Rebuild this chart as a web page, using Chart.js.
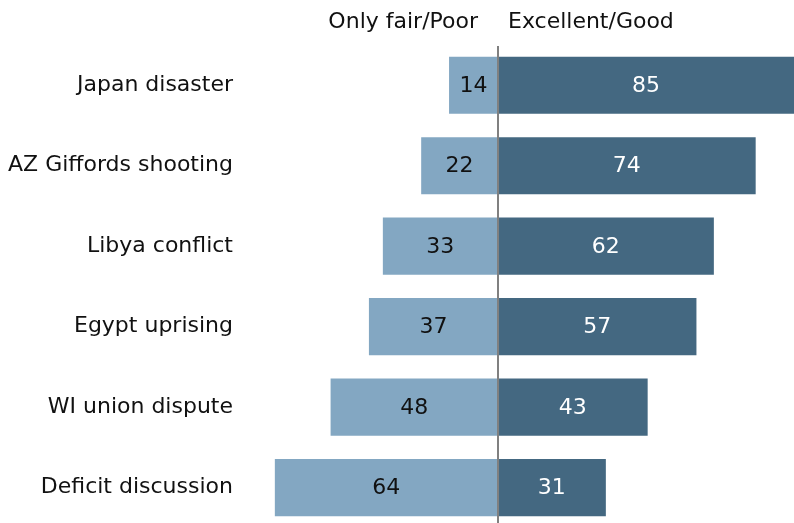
<!DOCTYPE html>
<html>
<head>
<meta charset="utf-8">
<script src="https://cdn.jsdelivr.net/npm/chart.js@4"></script>
<style>
  html, body { margin: 0; padding: 0; background: #fff; overflow: hidden; }
  canvas { display: block; }
</style>
</head>
<body>
<canvas id="chart" width="794" height="548"></canvas>
<script>
const topics = ["Japan disaster", "AZ Giffords shooting", "Libya conflict", "Egypt uprising", "WI union dispute", "Deficit discussion"];
const poor = [14, 22, 33, 37, 48, 64];
const good = [85, 74, 62, 57, 43, 31];
const headers = ["Only fair/Poor", "Excellent/Good"];

const FONT = "DejaVu Sans, Verdana, sans-serif";
const SIZE = 22;

// numbers in the middle of each bar
const barLabels = {
  id: "barLabels",
  afterDatasetsDraw(c) {
    const ctx = c.ctx;
    ctx.save();
    ctx.font = SIZE + "px " + FONT;
    ctx.textAlign = "center";
    ctx.textBaseline = "middle";
    c.data.datasets.forEach((ds, i) => {
      c.getDatasetMeta(i).data.forEach((bar, j) => {
        ctx.fillStyle = i === 0 ? "#111111" : "#ffffff";
        ctx.fillText(Math.abs(ds.data[j]), (bar.x + bar.base) / 2, bar.y + 1);
      });
    });
    ctx.restore();
  }
};

// zero line and the two column headers
const centerLine = {
  id: "centerLine",
  afterDatasetsDraw(c) {
    const ctx = c.ctx;
    const x0 = Math.round(c.scales.x.getPixelForValue(0));
    ctx.save();
    ctx.strokeStyle = "#808080";
    ctx.lineWidth = 2;
    ctx.beginPath();
    ctx.moveTo(x0, c.chartArea.top + 1);
    ctx.lineTo(x0, c.chartArea.bottom);
    ctx.stroke();
    ctx.font = SIZE + "px " + FONT;
    ctx.fillStyle = "#111111";
    ctx.textBaseline = "middle";
    ctx.textAlign = "right";
    ctx.fillText(headers[0], x0 - 20, 22);
    ctx.textAlign = "left";
    ctx.fillText(headers[1], x0 + 10, 22);
    ctx.restore();
  }
};

new Chart(document.getElementById("chart"), {
  type: "bar",
  data: {
    labels: topics,
    datasets: [
      { label: headers[0], data: poor.map(v => -v), backgroundColor: "#83a7c2" },
      { label: headers[1], data: good, backgroundColor: "#446881" }
    ]
  },
  options: {
    indexAxis: "y",
    responsive: false,
    animation: false,
    layout: { padding: { top: 45, bottom: 0, left: 0, right: 0 } },
    datasets: { bar: { categoryPercentage: 1, barPercentage: 0.71, borderWidth: 0 } },
    plugins: { legend: { display: false }, tooltip: { enabled: false } },
    scales: {
      x: { stacked: true, min: -74, max: 85, display: false },
      y: {
        stacked: true,
        grid: { display: false, drawTicks: false },
        border: { display: false },
        afterFit(s) { s.width = 240; },
        ticks: { padding: 7, color: "#111111", font: { family: FONT, size: SIZE } }
      }
    }
  },
  plugins: [barLabels, centerLine]
});
</script>
</body>
</html>
